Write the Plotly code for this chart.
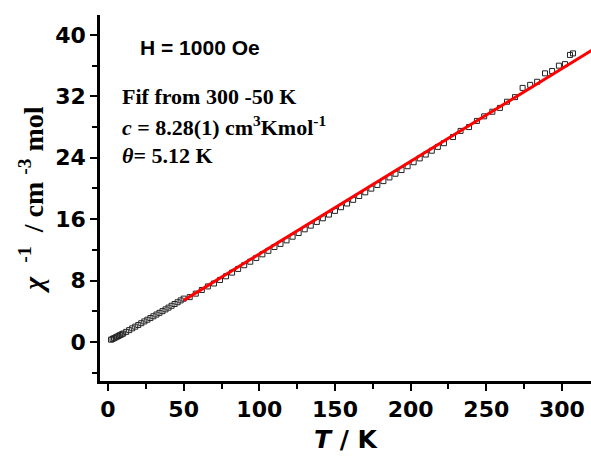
import plotly.graph_objects as go

# Measured data: temperature (K) and inverse susceptibility (cm^-3 mol)
T_data = [2, 3, 4, 5, 6, 7, 8, 9, 10, 12, 14, 16, 18, 20, 22, 24, 26, 28, 30,
          32, 34, 36, 38, 40, 42, 44, 46, 48, 50,
          54, 58, 62, 66, 70, 74, 78, 82, 86, 90, 94, 98, 102, 106, 110, 114,
          118, 122, 126, 130, 134, 138, 142, 146, 150, 154, 158, 162, 166,
          170, 174, 178, 182, 186, 190, 194, 198, 202, 206, 210, 214, 218, 222,
          228, 233, 238.6, 243.8, 248.6, 254, 259, 263.7, 269, 274, 279,
          283.6, 288.8, 293.5, 298, 302, 305.3, 307.3]
chi_inv = [0.30, 0.40, 0.50, 0.60, 0.70, 0.80, 0.90, 1.00, 1.10, 1.32, 1.55,
           1.78, 2.00, 2.22, 2.45, 2.68, 2.90, 3.12, 3.35, 3.58, 3.80, 4.02,
           4.25, 4.48, 4.72, 4.95, 5.18, 5.42, 5.65,
           5.85, 6.30, 6.78, 7.24, 7.62, 8.08, 8.56, 9.04, 9.52, 10.00, 10.46,
           10.95, 11.42, 11.88, 12.38, 12.78, 13.24, 13.72, 14.20, 14.68,
           15.16, 15.64, 16.12, 16.60, 17.08, 17.56, 18.04, 18.52, 19.02,
           19.50, 19.98, 20.46, 20.96, 21.44, 21.92, 22.40, 22.90, 23.42,
           23.92, 24.42, 24.92, 25.42, 25.90,
           26.7, 27.5, 28.0, 28.8, 29.4, 30.0, 30.5, 31.3, 31.9, 33.1, 33.5,
           33.9, 35.0, 35.3, 36.0, 36.2, 37.4, 37.6]

# Curie-Weiss fit line endpoints (fit from 300 - 50 K)
T_fit = [50, 322]
chi_fit = [5.42, 38.27]

x_ticks = [0, 50, 100, 150, 200, 250, 300]
y_ticks = [0, 8, 16, 24, 32, 40]

fig = go.Figure()
fig.add_trace(go.Scatter(
    x=T_data, y=chi_inv, mode="markers",
    marker=dict(symbol="square-open", size=5, color="#222222",
                line=dict(width=1, color="#222222")),
    showlegend=False, cliponaxis=False))
fig.add_trace(go.Scatter(
    x=T_fit, y=chi_fit, mode="lines",
    line=dict(color="#ff0000", width=3),
    showlegend=False))

sans = "DejaVu Sans, Verdana, sans-serif"
serif_family = "Liberation Serif, Times New Roman, serif"
axis_font = dict(family=sans, size=22, color="black")

W, H = 591, 461
ML, MT, MB, MR = 100, 15, 80, 0
PW, PH = W - ML - MR, H - MT - MB

fig.update_layout(
    width=W, height=H,
    margin=dict(l=ML, r=MR, t=MT, b=MB),
    paper_bgcolor="white", plot_bgcolor="white",
    xaxis=dict(
        range=[-5.3, 319.2], tickvals=x_ticks,
        ticktext=[f"<b>{v}</b>" for v in x_ticks],
        tickfont=axis_font, showgrid=False, zeroline=False,
        showline=True, linecolor="black", linewidth=2.5,
        ticks="outside", ticklen=7, tickwidth=2, tickcolor="black",
        minor=dict(dtick=25, tick0=0, ticks="outside", ticklen=5,
                   tickwidth=2, tickcolor="black"),
        automargin=False,
        title=dict(text="<b><i>T</i> / K</b>",
                   font=dict(family=sans, size=25, color="black"),
                   standoff=10),
    ),
    yaxis=dict(
        range=[-5.08, 42.6], tickvals=y_ticks,
        ticktext=[f"<b>{v}</b>" for v in y_ticks],
        tickfont=axis_font, showgrid=False, zeroline=False,
        showline=True, linecolor="black", linewidth=2.5,
        ticks="outside", ticklen=7, tickwidth=2, tickcolor="black",
        minor=dict(dtick=4, tick0=0, ticks="outside", ticklen=5,
                   tickwidth=2, tickcolor="black"),
        automargin=False,
        title=dict(text="<b><i>χ</i>  <sup>-1</sup>  / cm <sup>-3</sup> mol</b>",
                   font=dict(family=serif_family, size=28, color="black"),
                   standoff=4),
    ),
)

serif = dict(family=serif_family, size=22, color="black")
ann = [
    dict(text="<b>H = 1000 Oe</b>", px=138, py=48,
         font=dict(family="Liberation Sans, Arial", size=21, color="black")),
    dict(text="<b>Fif from 300 -50 K</b>", px=120, py=96, font=serif),
    dict(text="<b><i>c</i> = 8.28(1) cm<sup>3</sup>Kmol<sup>-1</sup></b>", px=120, py=126, font=serif),
    dict(text="<b><i>θ</i>= 5.12 K</b>", px=120, py=155, font=serif),
]
for a in ann:
    fig.add_annotation(
        text=a["text"], showarrow=False,
        xref="paper", yref="paper",
        x=(a["px"] - 100) / PW, y=(381 - a["py"]) / PH,
        xanchor="left", yanchor="middle", font=a["font"])

fig.write_html(
    "out.html",
    config={"displayModeBar": False},
    post_script="document.body.style.margin='0';document.body.style.overflow='hidden';",
)
